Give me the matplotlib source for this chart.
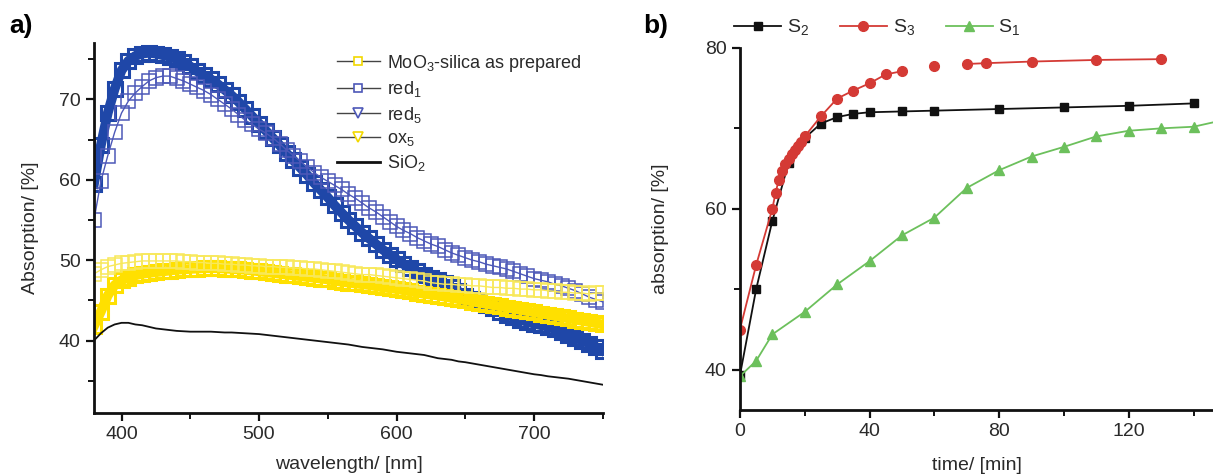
import numpy as np
import matplotlib
matplotlib.use('Agg')
import matplotlib.pyplot as plt
from matplotlib.lines import Line2D
from matplotlib.ticker import MultipleLocator

plt.rcParams['font.family'] = ['Liberation Sans', 'DejaVu Sans']
plt.rcParams['mathtext.fontset'] = 'custom'
plt.rcParams['mathtext.rm'] = 'Liberation Sans'

# panel a: spectra, wavelength in nm (5 nm steps)
wl = list(range(380, 755, 5))

red1 = [59.5, 64.3, 68.3, 71.3, 73.6, 74.8, 75.4, 75.7, 75.8, 75.7,
        75.5, 75.3, 75.0, 74.6, 74.1, 73.5, 73.0, 72.5, 71.9, 71.2,
        70.5, 69.7, 68.8, 67.9, 67.0, 66.1, 65.2, 64.3, 63.3, 62.4,
        61.5, 60.6, 59.6, 58.7, 57.8, 56.8, 55.9, 55.0, 54.2, 53.4,
        52.7, 52.0, 51.3, 50.7, 50.1, 49.5, 49.0, 48.6, 48.2, 47.8,
        47.5, 47.1, 46.6, 46.1, 45.6, 45.2, 44.8, 44.4, 44.0, 43.6,
        43.2, 42.9, 42.6, 42.3, 42.1, 41.9, 41.7, 41.4, 41.1, 40.7,
        40.3, 40.0, 39.6, 39.2, 38.7]

red5 = [55.0, 59.8, 63.0, 65.9, 68.3, 69.8, 70.8, 71.6, 72.3, 72.7,
        72.9, 72.9, 72.6, 72.3, 71.9, 71.5, 71.1, 70.6, 70.0, 69.4,
        68.8, 68.1, 67.4, 66.9, 66.3, 65.8, 65.2, 64.5, 63.7, 63.0,
        62.3, 61.6, 60.9, 60.3, 59.8, 59.3, 58.8, 58.2, 57.7, 57.1,
        56.5, 56.0, 55.4, 54.8, 54.2, 53.7, 53.3, 52.8, 52.4, 52.0,
        51.7, 51.3, 50.9, 50.6, 50.3, 50.0, 49.8, 49.5, 49.3, 49.1,
        48.9, 48.6, 48.3, 48.0, 47.7, 47.5, 47.3, 47.0, 46.8, 46.5,
        46.2, 45.8, 45.4, 45.1, 44.8]

prepared = [48.3, 48.8, 49.2, 49.4, 49.6, 49.7, 49.8, 49.9, 49.9, 49.9,
            49.9, 49.9, 49.9, 49.8, 49.8, 49.7, 49.7, 49.6, 49.6, 49.5,
            49.5, 49.4, 49.4, 49.3, 49.3, 49.2, 49.2, 49.1, 49.1, 49.0,
            49.0, 48.9, 48.9, 48.8, 48.7, 48.6, 48.5, 48.4, 48.3, 48.2,
            48.2, 48.1, 48.0, 47.9, 47.8, 47.7, 47.6, 47.5, 47.4, 47.2,
            47.1, 47.0, 47.0, 46.9, 46.9, 46.8, 46.8, 46.7, 46.6, 46.6,
            46.5, 46.5, 46.4, 46.4, 46.3, 46.3, 46.2, 46.1, 46.0, 46.0,
            45.9, 45.9, 45.8, 45.9, 45.9]

ox5 = [41.8, 43.6, 45.6, 46.9, 47.5, 47.8, 48.1, 48.3, 48.4, 48.5,
       48.6, 48.7, 48.8, 48.85, 48.9, 48.95, 49.0, 49.0, 49.0, 48.95,
       48.9, 48.85, 48.8, 48.7, 48.6, 48.5, 48.4, 48.3, 48.2, 48.1,
       48.0, 47.9, 47.8, 47.7, 47.6, 47.45, 47.3, 47.2, 47.1, 47.0,
       46.9, 46.75, 46.6, 46.5, 46.4, 46.25, 46.1, 45.95, 45.8, 45.7,
       45.6, 45.45, 45.3, 45.15, 45.0, 44.85, 44.7, 44.55, 44.4, 44.25,
       44.1, 43.95, 43.8, 43.65, 43.5, 43.35, 43.2, 43.05, 42.9, 42.75,
       42.6, 42.45, 42.3, 42.15, 42.0]

sio2 = [40.0, 40.9, 41.6, 42.0, 42.2, 42.2, 42.0, 41.9, 41.7, 41.5,
        41.4, 41.3, 41.2, 41.15, 41.1, 41.1, 41.1, 41.1, 41.05, 41.0,
        41.0, 40.95, 40.9, 40.85, 40.8, 40.7, 40.6, 40.5, 40.4, 40.3,
        40.2, 40.1, 40.0, 39.9, 39.8, 39.7, 39.6, 39.5, 39.35, 39.2,
        39.1, 39.0, 38.9, 38.75, 38.6, 38.5, 38.4, 38.3, 38.2, 38.0,
        37.8, 37.7, 37.6, 37.4, 37.3, 37.15, 37.0, 36.85, 36.7, 36.55,
        36.4, 36.25, 36.1, 35.95, 35.8, 35.7, 35.55, 35.45, 35.35, 35.25,
        35.1, 34.95, 34.8, 34.65, 34.5]

# panel b: kinetics, time in min
t2 = [0, 5, 10, 15, 20, 25, 30, 35, 40, 50, 60, 80, 100, 120, 140]
s2 = [39.3, 50.0, 58.5, 65.7, 68.8, 70.6, 71.4, 71.8, 72.0, 72.1, 72.2, 72.4, 72.6, 72.8, 73.1]

t3 = [0, 5, 10, 11, 12, 13, 14, 15, 16, 17, 18, 19, 20, 25, 30, 35, 40, 45, 50,
      60, 70, 76, 90, 110, 130]
s3 = [45.0, 53.0, 60.0, 62.0, 63.6, 64.7, 65.6, 66.2, 66.8, 67.3, 67.8, 68.3, 69.0,
      71.5, 73.7, 74.7, 75.6, 76.7, 77.1, 77.7, 78.0, 78.1, 78.3, 78.5, 78.6]

t1 = [0, 5, 10, 20, 30, 40, 50, 60, 70, 80, 90, 100, 110, 120, 130, 140, 150]
s1 = [39.2, 41.1, 44.4, 47.2, 50.6, 53.5, 56.7, 58.9, 62.6, 64.8, 66.5, 67.7, 69.0,
      69.7, 70.0, 70.2, 71.1]

blue_dark = '#1f47a8'
blue_light = '#4d58b8'
yellow_dark = '#ffe000'
yellow_light = '#f8e85a'
tick_col = '#2a2a2a'

fig = plt.figure(figsize=(12.13, 4.74), dpi=100)
ax1 = fig.add_axes([0.0775, 0.129, 0.4195, 0.78])
ax2 = fig.add_axes([0.610, 0.135, 0.39, 0.764])


def style_axis(ax):
    for s in ['top', 'right']:
        ax.spines[s].set_visible(False)
    for s in ['left', 'bottom']:
        ax.spines[s].set_linewidth(2)
        ax.spines[s].set_color('#111111')
    ax.tick_params(which='major', direction='out', length=6, width=1.6,
                   labelsize=14, labelcolor=tick_col, color='#111111')
    ax.tick_params(which='minor', direction='out', length=4, width=1.4, color='#111111')


# --- panel a (dense open markers form the bands)
ax1.plot(wl, red1, color=blue_dark, lw=7, marker='s', ms=9.5, mfc='none', mec=blue_dark, mew=2.2)
ax1.plot(wl, red5, color=blue_light, lw=1, marker='s', ms=9.5, mfc='none', mec=blue_light, mew=1.1)
ax1.plot(wl, ox5, color=yellow_dark, lw=7, marker='s', ms=9.5, mfc='none', mec=yellow_dark, mew=2.2)
ax1.plot(wl, prepared, color=yellow_light, lw=1, marker='s', ms=9.5, mfc='none', mec=yellow_light, mew=1.1)
ax1.plot(wl, sio2, color='#111111', lw=1.3)

ax1.set_xlim(380, 750)
ax1.set_ylim(31, 77)
ax1.xaxis.set_major_locator(MultipleLocator(100))
ax1.xaxis.set_minor_locator(MultipleLocator(50))
ax1.yaxis.set_major_locator(MultipleLocator(10))
ax1.yaxis.set_minor_locator(MultipleLocator(5))
style_axis(ax1)
ax1.set_xlabel('wavelength/ [nm]', fontsize=14, color=tick_col, labelpad=9)
ax1.set_ylabel('Absorption/ [%]', fontsize=14, color=tick_col, labelpad=14)

gray = '#444444'
h_a = [Line2D([], [], color=gray, lw=1, marker='s', ms=6, mfc='white', mec='#f2d800', mew=1.2),
       Line2D([], [], color=gray, lw=1, marker='s', ms=6, mfc='white', mec=blue_light, mew=1.2),
       Line2D([], [], color=gray, lw=1, marker='v', ms=7, mfc='white', mec=blue_light, mew=1.2),
       Line2D([], [], color=gray, lw=1, marker='v', ms=7, mfc='white', mec='#f2d800', mew=1.2),
       Line2D([], [], color='#111111', lw=2)]
l_a = ['MoO$_3$-silica as prepared', 'red$_1$', 'red$_5$', 'ox$_5$', 'SiO$_2$']
ax1.legend(h_a, l_a, loc='upper left', bbox_to_anchor=(0.445, 1.018), frameon=False,
           fontsize=13, handlelength=2.4, handletextpad=0.4, labelspacing=0.3,
           labelcolor=tick_col)

# --- panel b
ax2.plot(t2, s2, color='#111111', lw=1.3, marker='s', ms=6)
k = t3.index(60)
ax2.plot(t3[:k], s3[:k], color='#d43a35', lw=1.3)
ax2.plot(t3[k + 1:], s3[k + 1:], color='#d43a35', lw=1.3)
ax2.plot(t3, s3, ls='none', color='#d43a35', marker='o', ms=7)
ax2.plot(t1, s1, color='#6cc05c', lw=1.3, marker='^', ms=7)

ax2.set_xlim(0, 146)
ax2.set_ylim(35, 80)
ax2.xaxis.set_major_locator(MultipleLocator(40))
ax2.xaxis.set_minor_locator(MultipleLocator(20))
ax2.yaxis.set_major_locator(MultipleLocator(20))
ax2.yaxis.set_minor_locator(MultipleLocator(10))
style_axis(ax2)
ax2.set_xlabel('time/ [min]', fontsize=14, color=tick_col, labelpad=12)
ax2.set_ylabel('absorption/ [%]', fontsize=14, color=tick_col, labelpad=26)

h_b = [Line2D([], [], color='#111111', lw=1.3, marker='s', ms=6),
       Line2D([], [], color='#d43a35', lw=1.3, marker='o', ms=7),
       Line2D([], [], color='#6cc05c', lw=1.3, marker='^', ms=7)]
fig.legend(h_b, ['S$_2$', 'S$_3$', 'S$_1$'], loc='upper left', bbox_to_anchor=(0.591, 1.0),
           ncol=3, frameon=False, fontsize=14, handlelength=2.4, handletextpad=0.3,
           columnspacing=1.6, labelcolor=tick_col)

fig.text(0.008, 0.93, 'a)', fontsize=19, fontweight='bold', family='Liberation Sans')
fig.text(0.530, 0.93, 'b)', fontsize=19, fontweight='bold', family='Liberation Sans')

fig.savefig('out.png', dpi=100)
